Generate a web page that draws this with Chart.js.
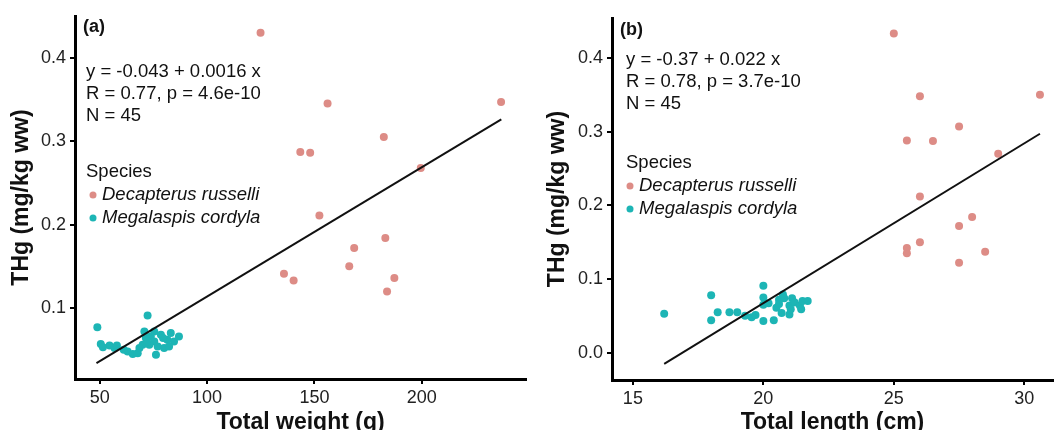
<!DOCTYPE html>
<html>
<head>
<meta charset="utf-8">
<script src="https://cdn.jsdelivr.net/npm/chart.js@4"></script>
<style>
  html, body { margin: 0; padding: 0; background: #fff; }
  #wrap { position: relative; width: 1057px; height: 430px; overflow: hidden; }
  canvas { position: absolute; top: 0; }
</style>
</head>
<body>
<div id="wrap">
  <canvas id="chartA" width="530" height="430" style="left:0"></canvas>
  <canvas id="chartB" width="527" height="430" style="left:530px"></canvas>
</div>
<script>
/* data ------------------------------------------------------------------- */
// panel (a): weight (g) vs THg
const redWeight = [124.9, 156.1, 236.9, 182.3, 143.4, 148.0, 199.5, 152.3, 183.0, 168.5, 166.2, 135.8, 140.3, 187.2, 183.8];
const redThgA   = [0.430, 0.345, 0.347, 0.305, 0.287, 0.286, 0.268, 0.211, 0.184, 0.172, 0.150, 0.141, 0.133, 0.136, 0.120];
const tealWeight = [48.9, 72.3, 50.5, 54.6, 51.5, 56.9, 63.0, 65.4, 67.7, 70.0, 71.5, 73.8, 75.4, 76.2, 78.5,
                    80.0, 81.5, 83.1, 84.6, 86.9, 73.1, 70.8, 77.0, 75.4, 68.5, 61.2, 82.3, 58.0, 79.5, 72.0];
const tealThgA   = [0.077, 0.091, 0.057, 0.055, 0.053, 0.052, 0.048, 0.045, 0.046, 0.056, 0.064, 0.066, 0.060, 0.044, 0.068,
                    0.052, 0.062, 0.070, 0.060, 0.066, 0.056, 0.072, 0.054, 0.072, 0.052, 0.050, 0.054, 0.055, 0.064, 0.060];
const fitA = { x: [48.5, 237], y: [0.034, 0.326] };

// panel (b): length (cm) vs THg
const redLength = [25.0, 26.0, 30.6, 27.5, 25.5, 26.5, 29.0, 26.0, 28.0, 27.5, 26.0, 25.5, 25.5, 28.5, 27.5];
const redThgB   = [0.433, 0.348, 0.350, 0.307, 0.288, 0.287, 0.270, 0.212, 0.184, 0.172, 0.150, 0.142, 0.135, 0.137, 0.122];
const tealLength = [16.2, 18.0, 18.0, 18.25, 18.7, 19.0, 19.3, 19.55, 20.0, 20.0, 20.0, 20.0, 20.4, 20.5, 20.6,
                    20.7, 20.8, 21.0, 21.0, 21.1, 21.2, 21.4, 21.5, 21.7, 20.2, 20.6, 21.05, 21.45, 19.7, 20.75];
const tealThgB   = [0.053, 0.078, 0.044, 0.055, 0.055, 0.055, 0.050, 0.048, 0.091, 0.075, 0.065, 0.043, 0.044, 0.061, 0.072,
                    0.054, 0.074, 0.064, 0.052, 0.074, 0.068, 0.064, 0.070, 0.070, 0.067, 0.066, 0.059, 0.059, 0.051, 0.079];
const fitB = { x: [16.2, 30.6], y: [-0.015, 0.297] };

// ticks
const xTicksA = [50, 100, 150, 200];
const yTicksA = [0.1, 0.2, 0.3, 0.4];
const xTicksB = [15, 20, 25, 30];
const yTicksB = [0.0, 0.1, 0.2, 0.3, 0.4];

// texts
const speciesNames = ['Decapterus russelli', 'Megalaspis cordyla'];
const statsA = ['y = -0.043 + 0.0016 x', 'R = 0.77, p = 4.6e-10', 'N = 45'];
const statsB = ['y = -0.37 + 0.022 x', 'R = 0.78, p = 3.7e-10', 'N = 45'];

const RED = '#dd8c86';
const TEAL = '#1db5b5';
const FONT = "'Liberation Sans', Arial, sans-serif";

/* helpers ---------------------------------------------------------------- */
const toPoints = (xs, ys) => xs.map((x, i) => ({ x, y: ys[i] }));

// text overlay: panel tag, regression stats, species legend
function annotations(cfg) {
  return {
    id: 'annot',
    afterDraw(chart) {
      const c = chart.ctx;
      c.save();
      c.fillStyle = '#111';
      c.textBaseline = 'middle';
      c.textAlign = 'left';
      c.font = `bold 18px ${FONT}`;
      c.fillText(cfg.tag, cfg.tagX, cfg.tagY);

      c.font = `18.5px ${FONT}`;
      cfg.stats.forEach((t, i) => c.fillText(t, cfg.textX, cfg.statsY + i * 22));
      c.fillText('Species', cfg.textX, cfg.legendY);

      c.font = `italic 18.5px ${FONT}`;
      [RED, TEAL].forEach((col, i) => {
        const y = cfg.legendY + 23 * (i + 1);
        c.fillStyle = col;
        c.beginPath();
        c.arc(cfg.markX, y, 3.5, 0, Math.PI * 2);
        c.fill();
        c.fillStyle = '#111';
        c.fillText(speciesNames[i], cfg.markX + 9, y);
      });
      c.restore();
    }
  };
}

function makeChart(id, p) {
  return new Chart(document.getElementById(id), {
    type: 'scatter',
    data: {
      datasets: [
        { data: toPoints(p.redX, p.redY), backgroundColor: RED, borderWidth: 0, pointRadius: 4, order: 2 },
        { data: toPoints(p.tealX, p.tealY), backgroundColor: TEAL, borderWidth: 0, pointRadius: 4, order: 1 },
        { data: toPoints(p.fit.x, p.fit.y), showLine: true, borderColor: '#111', borderWidth: 2,
          pointRadius: 0, order: 0 }
      ]
    },
    options: {
      responsive: false,
      animation: false,
      events: [],
      layout: { padding: { left: p.padLeft, top: p.padTop, right: 0, bottom: 0 } },
      plugins: { legend: { display: false }, tooltip: { enabled: false } },
      scales: {
        x: {
          type: 'linear', min: p.xMin, max: p.xMax,
          afterBuildTicks: (s) => { s.ticks = p.xTicks.map(v => ({ value: v })); },
          afterFit: (s) => { s.height = p.xAxisH; },
          border: { display: true, color: '#000', width: 3 },
          grid: { drawOnChartArea: false, drawTicks: true, tickLength: 5, color: '#000', lineWidth: 2 },
          ticks: { color: '#222', font: { family: FONT, size: 18 }, padding: 3, maxRotation: 0 },
          title: { display: true, text: p.xTitle, color: '#111', font: { family: FONT, size: 23, weight: 'bold' },
                   padding: { top: 0, bottom: -6 } }
        },
        y: {
          type: 'linear', min: p.yMin, max: p.yMax,
          afterBuildTicks: (s) => { s.ticks = p.yTicks.map(v => ({ value: v })); },
          afterFit: (s) => { s.width = p.yAxisW; },
          border: { display: true, color: '#000', width: 3 },
          grid: { drawOnChartArea: false, drawTicks: true, tickLength: 5, color: '#000', lineWidth: 2 },
          ticks: { color: '#222', font: { family: FONT, size: 18 }, padding: 4, callback: (v) => v.toFixed(1) },
          title: { display: true, text: 'THg (mg/kg ww)', color: '#111', font: { family: FONT, size: 23, weight: 'bold' },
                   padding: { top: 0, bottom: 0 } }
        }
      }
    },
    plugins: [annotations(p.annot)]
  });
}

/* charts ----------------------------------------------------------------- */
makeChart('chartA', {
  redX: redWeight, redY: redThgA, tealX: tealWeight, tealY: tealThgA, fit: fitA,
  xMin: 38.5, xMax: 248.5, yMin: 0.015, yMax: 0.45,
  xTicks: xTicksA, yTicks: yTicksA, xTitle: 'Total weight (g)',
  padLeft: 8, padTop: 16, yAxisW: 67, xAxisH: 51,
  annot: { tag: '(a)', tagX: 83, tagY: 27, stats: statsA, textX: 86, statsY: 72, legendY: 172, markX: 93 }
});

makeChart('chartB', {
  redX: redLength, redY: redThgB, tealX: tealLength, tealY: tealThgB, fit: fitB,
  xMin: 14.2, xMax: 31.1, yMin: -0.037, yMax: 0.454,
  xTicks: xTicksB, yTicks: yTicksB, xTitle: 'Total length (cm)',
  padLeft: 14, padTop: 18, yAxisW: 68, xAxisH: 50,
  annot: { tag: '(b)', tagX: 90, tagY: 30, stats: statsB, textX: 96, statsY: 60, legendY: 163, markX: 100 }
});
</script>
</body>
</html>
